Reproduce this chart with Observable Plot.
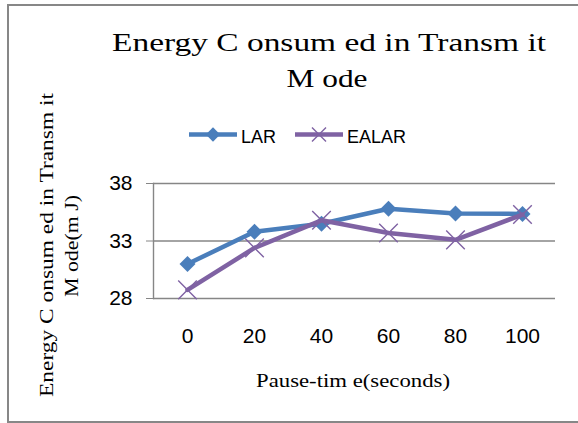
<!DOCTYPE html>
<html>
<head>
<meta charset="utf-8">
<script src="https://cdn.jsdelivr.net/npm/d3@7"></script>
<script src="https://cdn.jsdelivr.net/npm/@observablehq/plot@0.6"></script>
<style>
  html, body { margin: 0; padding: 0; background: #fff; overflow: hidden; }
  #wrap { position: relative; width: 578px; height: 423px; overflow: hidden; }
  #border { position: absolute; left: 7px; top: 4px; width: 620px; height: 419px; box-sizing: border-box; border: 2.5px solid #878787; }
  #chart { position: absolute; left: 0; top: 0; }
  #overlay { position: absolute; left: 0; top: 0; }
</style>
</head>
<body>
<div id="wrap">
  <div id="border"></div>
  <div id="chart"></div>
  <svg id="overlay" width="578" height="423"></svg>
</div>
<script>
// ---- data ----
const pauseTimes = [0, 20, 40, 60, 80, 100];
const larValues = [31.0, 33.8, 34.5, 35.8, 35.4, 35.35];
const ealarValues = [28.75, 32.4, 34.8, 33.7, 33.1, 35.3];
const yTicks = [28, 33, 38];
const seriesNames = ["LAR", "EALAR"];
const seriesColors = ["#4A7EBB", "#7F62A3"];
const titleLines = ["Energy C onsum ed in Transm it", "M ode"];
const yTitleLines = ["Energy C onsum ed in Transm it", "M ode(m J)"];
const xTitle = "Pause-tim e(seconds)";

const lar = pauseTimes.map((t, i) => ({t, v: larValues[i]}));
const ealar = pauseTimes.map((t, i) => ({t, v: ealarValues[i]}));

const plot = Plot.plot({
  width: 578,
  height: 423,
  marginLeft: 153,
  marginRight: 23,
  marginTop: 183,
  marginBottom: 125,
  style: {fontFamily: "Liberation Sans, Arial, sans-serif", fontSize: "21px", color: "black", background: "transparent"},
  x: {type: "point", domain: pauseTimes, padding: 0.5, label: null},
  y: {domain: [28, 38], label: null},
  marks: [
    Plot.ruleY(yTicks, {stroke: "#868686", strokeWidth: 1.4}),
    Plot.frame({anchor: "left", stroke: "#868686", strokeWidth: 1.4}),
    Plot.axisY({ticks: yTicks, tickSize: 7, tickPadding: 14, stroke: "#868686", fill: "black", fontSize: 21, label: null}),
    Plot.axisX({tickSize: 0, tickPadding: 30, fill: "black", fontSize: 21, label: null}),
    Plot.line(lar, {x: "t", y: "v", stroke: seriesColors[0], strokeWidth: 4.5, strokeLinejoin: "round"}),
    Plot.dot(lar, {x: "t", y: "v", symbol: "diamond2", fill: seriesColors[0], r: 7.2}),
    Plot.line(ealar, {x: "t", y: "v", stroke: seriesColors[1], strokeWidth: 4.5, strokeLinejoin: "round"}),
    Plot.dot(ealar, {x: "t", y: "v", symbol: "times", stroke: seriesColors[1], strokeWidth: 1.4, r: 8.5})
  ]
});
document.getElementById("chart").appendChild(plot);

// ---- overlay: title, legend, axis titles ----
const svg = d3.select("#overlay");
const serif = "Liberation Serif, Times New Roman, serif";

function txt(str, size, len, transform) {
  return svg.append("text")
    .attr("text-anchor", "middle")
    .attr("font-family", serif)
    .attr("font-size", size)
    .attr("fill", "#000")
    .attr("textLength", len)
    .attr("lengthAdjust", "spacingAndGlyphs")
    .attr("transform", transform)
    .text(str);
}

txt(titleLines[0], 25, 434, "translate(329,51)");
txt(titleLines[1], 25, 81, "translate(327,87)");

txt(yTitleLines[0], 18, 304, "translate(53,245) rotate(-90)");
txt(yTitleLines[1], 18, 102, "translate(78,246) rotate(-90)");

txt(xTitle, 18, 194, "translate(353,387)");

// legend
const legendItems = [
  {x1: 189, x2: 237, tx: 241, sym: d3.symbolDiamond2, size: 130, fill: true},
  {x1: 295, x2: 343, tx: 347, sym: d3.symbolTimes, size: 130, fill: false}
];
legendItems.forEach((d, i) => {
  svg.append("line").attr("x1", d.x1).attr("x2", d.x2).attr("y1", 134.5).attr("y2", 134.5)
    .attr("stroke", seriesColors[i]).attr("stroke-width", 4.5);
  const p = svg.append("path").attr("d", d3.symbol(d.sym, d.size)())
    .attr("transform", `translate(${(d.x1 + d.x2) / 2},134.5)`);
  if (d.fill) p.attr("fill", seriesColors[i]);
  else p.attr("fill", "none").attr("stroke", seriesColors[i]).attr("stroke-width", 1.4);
  svg.append("text").attr("x", d.tx).attr("y", 142.7)
    .attr("font-family", "Liberation Sans, Arial, sans-serif").attr("font-size", 18)
    .attr("fill", "#000").text(seriesNames[i]);
});
</script>
</body>
</html>
